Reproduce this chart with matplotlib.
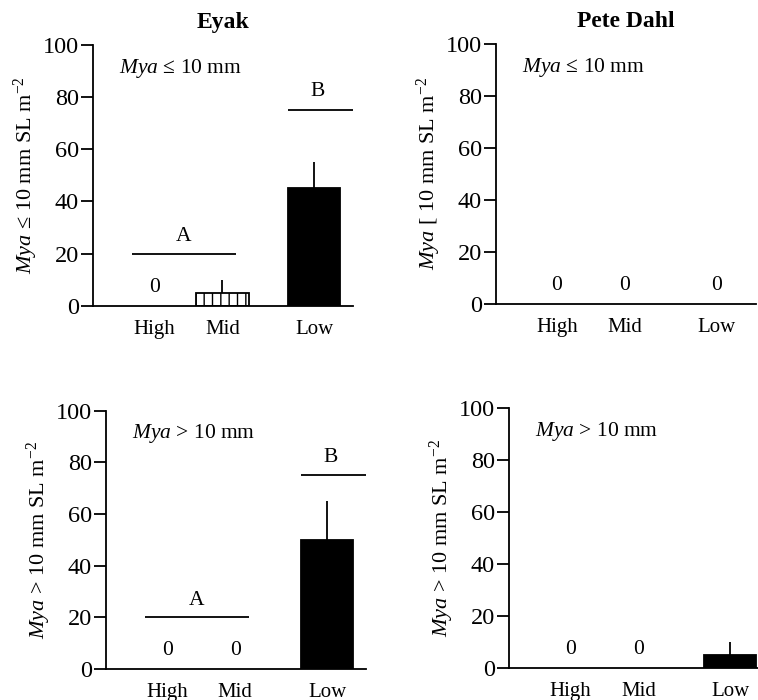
import matplotlib
matplotlib.use("Agg")
import matplotlib.pyplot as plt

plt.rcParams['font.family'] = ['Liberation Serif', 'DejaVu Serif']
plt.rcParams['mathtext.fontset'] = 'custom'
plt.rcParams['mathtext.rm'] = 'Liberation Serif'
plt.rcParams['mathtext.it'] = 'Liberation Serif:italic'

# data
zones = ["High", "Mid", "Low"]
eyak_small = [0, 5, 45]
eyak_small_se = [0, 5, 10]
eyak_large = [0, 0, 50]
eyak_large_se = [0, 0, 15]
pete_small = [0, 0, 0]
pete_small_se = [0, 0, 0]
pete_large = [0, 0, 5]
pete_large_se = [0, 0, 5]

xpos = [0.9, 1.9, 3.25]
bar_w = 0.77
hatches = ["", "||", ""]
fills = ["white", "white", "black"]

fig = plt.figure(figsize=(7.58, 7.0), dpi=100)

axes_pos = [
    [0.1227, 0.563, 0.343, 0.373],
    [0.654, 0.566, 0.343, 0.371],
    [0.1398, 0.0443, 0.343, 0.369],
    [0.6715, 0.0457, 0.343, 0.371],
]

panels = [
    (eyak_small, eyak_small_se, r"$\mathit{Mya}$ ≤ 10 mm",
     r"$\mathit{Mya}$ ≤ 10 mm SL m$^{\mathrm{-}2}$", "Eyak", True),
    (pete_small, pete_small_se, r"$\mathit{Mya}$ ≤ 10 mm",
     r"$\mathit{Mya}$ [ 10 mm SL m$^{\mathrm{-}2}$", "Pete Dahl", False),
    (eyak_large, eyak_large_se, r"$\mathit{Mya}$ > 10 mm",
     r"$\mathit{Mya}$ > 10 mm SL m$^{\mathrm{-}2}$", None, True),
    (pete_large, pete_large_se, r"$\mathit{Mya}$ > 10 mm",
     r"$\mathit{Mya}$ > 10 mm SL m$^{\mathrm{-}2}$", None, False),
]

for pos, (vals, se, tag, ylab, title, letters) in zip(axes_pos, panels):
    ax = fig.add_axes(pos)
    for x, v, e, h, fc in zip(xpos, vals, se, hatches, fills):
        if v > 0:
            ax.bar(x, v, width=bar_w, color=fc, edgecolor="black",
                   hatch=h, linewidth=1.3)
            ax.vlines(x, v, v + e, color="black", linewidth=1.3)
        else:
            ax.text(x, 7, "0", ha="center", va="center", fontsize=15.5)
    ax.set_xlim(0, 3.82)
    ax.set_ylim(0, 100)
    ax.set_yticks([0, 20, 40, 60, 80, 100])
    ax.set_xticks(xpos)
    ax.set_xticklabels(zones)
    ax.tick_params(axis="x", length=0, pad=10, labelsize=15)
    ax.tick_params(axis="y", length=9, width=1.3, labelsize=17.5, pad=1)
    for s in ["top", "right"]:
        ax.spines[s].set_visible(False)
    for s in ["left", "bottom"]:
        ax.spines[s].set_linewidth(1.3)
    ax.set_ylabel(ylab, fontsize=16, labelpad=2)
    ax.text(0.38, 91, tag, ha="left", va="center", fontsize=15.5)
    if title:
        ax.set_title(title, fontsize=17, fontweight="bold", pad=12)
    if letters:
        ax.hlines(20, 0.57, 2.1, color="black", linewidth=1.3)
        ax.hlines(75, 2.87, 3.82, color="black", linewidth=1.3)
        ax.text(1.33, 26.5, "A", ha="center", va="center", fontsize=15.5)
        ax.text(3.3, 82, "B", ha="center", va="center", fontsize=15.5)

fig.savefig("out.png", dpi=100)
